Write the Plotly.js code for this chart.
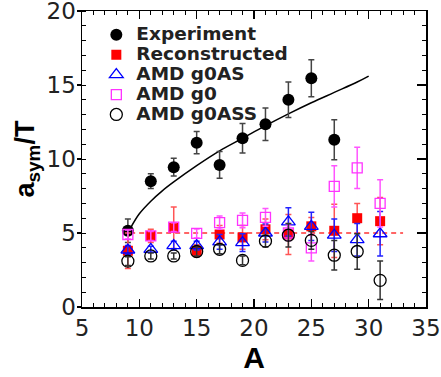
<!DOCTYPE html>
<html>
<head>
<meta charset="utf-8">
<script src="https://cdn.plot.ly/plotly-3.0.1.min.js"></script>
<style>html,body{margin:0;padding:0;background:#fff;}#chart{width:441px;height:377px;}</style>
</head>
<body>
<div id="chart"></div>
<script>
// ---- data ----
const massA = [9, 11, 13, 15, 17, 19, 21, 23, 25, 27, 29, 31];

const expA   = [9, 11, 13, 15, 17, 19, 21, 23, 25, 27];
const expVal = [5.15, 8.5, 9.45, 11.1, 9.6, 11.4, 12.35, 14.0, 15.45, 11.3];
const expErr = [0.8, 0.5, 0.6, 0.75, 0.9, 1.0, 1.1, 1.2, 1.25, 1.35];

const recVal = [3.8, 4.8, 5.35, 3.8, 4.9, 4.7, 5.25, 4.9, 5.45, 5.15, 6.0, 5.8];
const recErr = [1.2, 0.45, 1.4, 0.4, 0.6, 0.8, 0.7, 1.35, 0.6, 1.8, 1.0, 1.6];

const g0asVal = [3.85, 3.9, 4.15, 4.15, 4.4, 4.35, 5.0, 5.75, 5.45, 4.85, 4.55, 4.95];
const g0asErr = [0.3, 0.2, 0.3, 0.3, 0.5, 0.6, 0.6, 0.95, 0.95, 1.1, 1.1, 1.5];

const g0Val = [4.9, 4.8, 5.4, 4.97, 5.7, 5.85, 6.05, 5.0, 4.0, 8.15, 9.4, 7.0];
const g0Err = [0.3, 0.3, 0.3, 0.3, 0.45, 0.5, 0.6, 0.5, 0.9, 1.4, 1.4, 1.6];

const g0assVal = [3.1, 3.45, 3.45, 3.75, 3.9, 3.15, 4.45, 4.85, 4.5, 3.5, 3.75, 1.8];
const g0assErr = [0.3, 0.2, 0.2, 0.3, 0.3, 0.3, 0.4, 0.8, 0.6, 1.0, 1.2, 1.3];

// fitted curve
const fitA   = [9.2, 10, 11, 12, 13, 15, 17, 19, 21, 23, 25, 27, 29, 30];
const fitVal = [5.3, 6.3, 7.15, 7.85, 8.45, 9.55, 10.55, 11.4, 12.25, 13.05, 13.8, 14.5, 15.2, 15.6];

// reference level
const refA   = [9.2, 33];
const refVal = [5.0, 5.0];

const names = ['Experiment', 'Reconstructed', 'AMD g0AS', 'AMD g0', 'AMD g0ASS'];
const lg = n => '<span style="font-size:18.5px;font-weight:bold">' + n + '</span>';

const eb = (arr, color) => ({type: 'data', array: arr, visible: true, color: color, thickness: 1.5, width: 3});

const traces = [
  {x: fitA, y: fitVal, mode: 'lines', line: {color: '#000', width: 1.5, shape: 'spline'}, showlegend: false},
  {x: refA, y: refVal, mode: 'lines', line: {color: '#ff3333', width: 1.5, dash: '5px,4px'}, showlegend: false},
  {x: expA, y: expVal, mode: 'markers', name: lg(names[0]),
   marker: {symbol: 'circle', size: 12, color: '#000'}, error_y: eb(expErr, '#444')},
  {x: massA, y: recVal, mode: 'markers', name: lg(names[1]),
   marker: {symbol: 'square', size: 10, color: '#ff0000'}, error_y: eb(recErr, '#ff5555')},
  {x: massA, y: g0asVal, mode: 'markers', name: lg(names[2]),
   marker: {symbol: 'triangle-up-open', size: 12, color: '#0000ff', line: {width: 1.3}}, error_y: eb(g0asErr, '#2222ff')},
  {x: massA, y: g0Val, mode: 'markers', name: lg(names[3]),
   marker: {symbol: 'square-open', size: 10, color: '#ff33ff', line: {width: 1.3}}, error_y: eb(g0Err, '#ff55ff')},
  {x: massA, y: g0assVal, mode: 'markers', name: lg(names[4]),
   marker: {symbol: 'circle-open', size: 12, color: '#000', line: {width: 1.3}}, error_y: eb(g0assErr, '#333')}
];

const tickFont = {family: 'DejaVu Sans, sans-serif', size: 23, color: '#222'};

const layout = {
  width: 441, height: 377,
  margin: {l: 82, r: 15, t: 11, b: 70, pad: 0},
  paper_bgcolor: '#fff', plot_bgcolor: '#fff',
  showlegend: true,
  legend: {x: 0.062, y: 0.97, xanchor: 'left', yanchor: 'top', bgcolor: 'rgba(0,0,0,0)',
           indentation: -7,
           font: {family: 'DejaVu Sans, sans-serif', size: 13, color: '#222'}},
  xaxis: {
    range: [5, 35], dtick: 5, tick0: 5, showgrid: false, zeroline: false,
    showline: true, linecolor: '#000', linewidth: 1.5, mirror: 'ticks',
    ticks: 'inside', ticklen: 8, tickwidth: 1.2, tickcolor: '#000',
    minor: {dtick: 1, ticks: 'inside', ticklen: 4, tickwidth: 1, tickcolor: '#000', showgrid: false},
    tickfont: tickFont, ticklabeloverflow: 'allow',
    title: {text: '<b>A</b>', font: {family: 'Liberation Sans, Arial, sans-serif', size: 30, color: '#000'}, standoff: 4}
  },
  yaxis: {
    range: [0, 20], dtick: 5, showgrid: false, zeroline: false,
    showline: true, linecolor: '#000', linewidth: 1.5, mirror: true,
    ticks: 'outside', ticklen: 4, tickwidth: 1.2, tickcolor: '#000',
    minor: {dtick: 1, ticks: 'inside', ticklen: 4, tickwidth: 1, tickcolor: '#000', showgrid: false},
    tickfont: tickFont, ticklabeloverflow: 'allow', ticklabelstandoff: -4,
    title: {text: '<b>a<sub>sym</sub>/T</b>', font: {family: 'Liberation Sans, Arial, sans-serif', size: 27, color: '#000'}, standoff: 4}
  },
  yaxis2: {
    overlaying: 'y', side: 'right', matches: 'y', range: [0, 20], dtick: 5,
    showgrid: false, zeroline: false, showline: false, showticklabels: false,
    ticks: 'inside', ticklen: 9, tickwidth: 1.2, tickcolor: '#000',
    minor: {dtick: 1, ticks: 'inside', ticklen: 4, tickwidth: 1, tickcolor: '#000', showgrid: false}
  }
};

// a hidden trace so the right-hand tick axis is drawn
traces.push({x: [null], y: [null], yaxis: 'y2', mode: 'markers', showlegend: false, hoverinfo: 'skip'});

Plotly.newPlot('chart', traces, layout, {staticPlot: true, displayModeBar: false});
</script>
</body>
</html>
